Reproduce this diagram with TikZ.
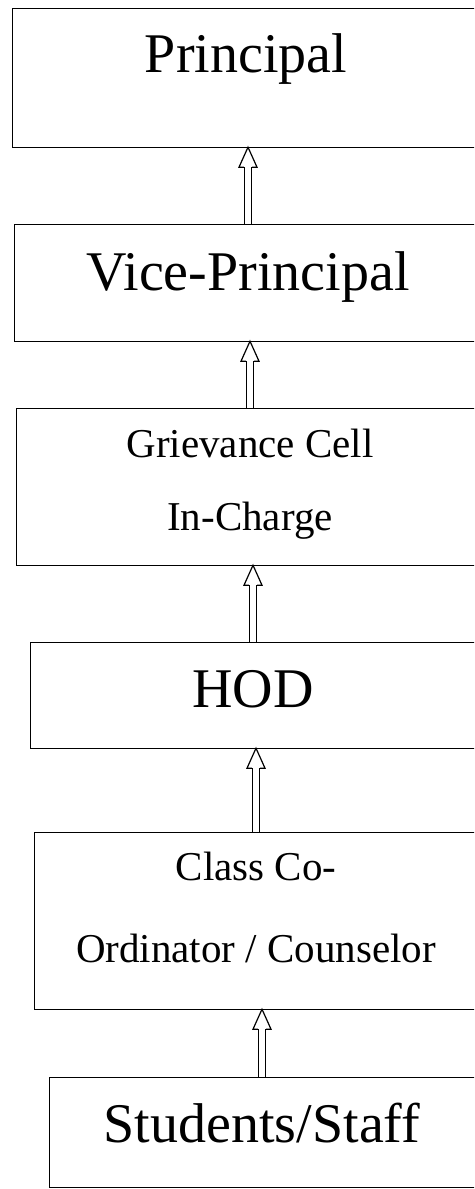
\documentclass[tikz,border=0pt]{standalone}
\usepackage{fontspec}
\setmainfont{Liberation Serif}
\usetikzlibrary{calc}

\begin{document}
\begin{tikzpicture}[x=1pt,y=-1pt,
  box/.style={anchor=base,inner xsep=0pt,inner ysep=0pt},
  big/.style={font=\fontsize{56}{67}\selectfont},
  small/.style={font=\fontsize{41}{49}\selectfont},
  shaft/.style={line width=1.2pt,double,double distance=6pt}]
  \useasboundingbox (0,0) rectangle (474,1189);
  \clip (0,0) rectangle (474,1189);
  \coordinate (edge) at (500,0);

  \node[box,big,minimum width=466pt,text height=63pt,text depth=75pt] (pr) at (246,72) {Principal};
  \node[box,big,minimum width=466pt,text height=65pt,text depth=51pt] (vp) at (248,290) {Vice-Principal};
  \node[box,small,minimum width=466pt,text height=48pt,text depth=108pt] (gc) at (250,457)
    {\begin{tabular}[t]{@{}c@{}}Grievance Cell\\[24pt]In-Charge\end{tabular}};
  \node[box,big,minimum width=444pt,text height=64pt,text depth=41pt] (hod) at (253,707) {HOD};
  \node[box,small,minimum width=442pt,text height=47pt,text depth=129pt] (cc) at (256,880)
    {\begin{tabular}[t]{@{}c@{}}Class Co-\\[33pt]Ordinator / Counselor\end{tabular}};
  \node[box,big,minimum width=424pt,text height=64pt,text depth=45pt] (st) at (262,1142) {Students/Staff};

  % hollow arrows upwards
  \foreach \a/\b in {vp/pr,gc/vp,hod/gc,cc/hod,st/cc}{
    \coordinate (tip) at (\a.north |- \b.south);
    \draw[shaft] (\a.north) -- ($(tip)+(0,-20pt)$);
    \draw[line width=1.2pt] ($(tip)+(-4.2pt,-20pt)$) -- ++(-4.8pt,0) -- (tip) -- ++(9pt,-20pt) -- ++(-4.8pt,0);
  }

  % frames run off the right edge of the page
  \foreach \n in {pr,vp,gc,hod,cc,st}
    \draw[line width=1.2pt] (\n.north -| edge) -- (\n.north west) -- (\n.south west) -- (\n.south -| edge);
\end{tikzpicture}
\end{document}
